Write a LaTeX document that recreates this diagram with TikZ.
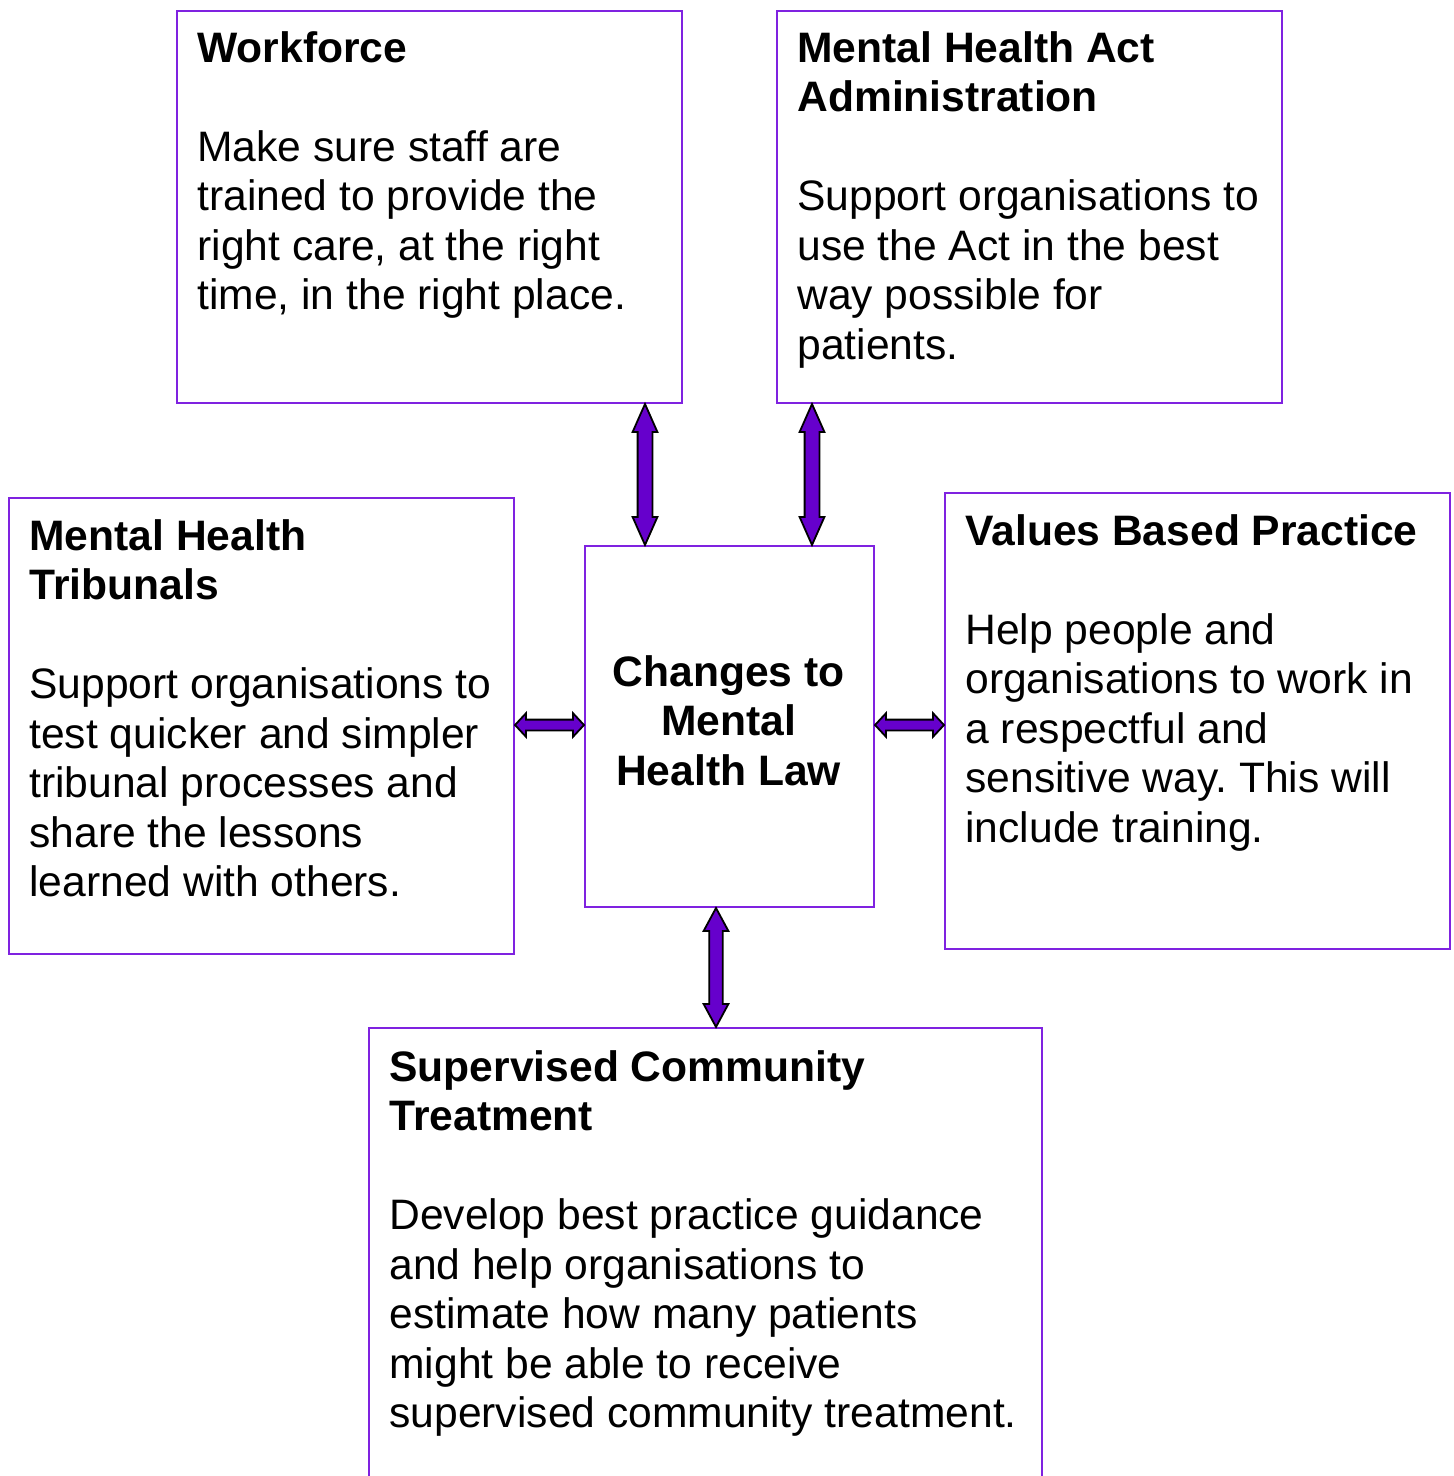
\documentclass[tikz,border=0pt]{standalone}
\usepackage{fontspec}
\setmainfont{Liberation Sans}
\usepackage{tikz}
\usetikzlibrary{calc}
\frenchspacing

\definecolor{boxline}{HTML}{7F22E0}
\definecolor{arrowfill}{HTML}{6600CC}

\tikzset{
  box/.style={draw=boxline, line width=1pt, minimum width=#1, inner sep=0, anchor=north west},
  % placed at the first baseline: the strut keeps the top of the text fixed
  txt/.style={inner sep=0, anchor=north west, yshift=15.4pt, align=left,
    font=\fontsize{21.3}{24.75}\selectfont, execute at begin node=\strut},
  arrowbody/.style={fill=arrowfill, draw=black, line width=0.9pt, line join=miter}
}

% block arrow with two heads: #1 from, #2 to, #3 head length, #4 half head, #5 half shaft
\newcommand\blockarrow[5]{%
  \path (#1) coordinate (ba-s) (#2) coordinate (ba-t);
  \path ($(ba-s)!#3!(ba-t)$) coordinate (ba-h1) ($(ba-t)!#3!(ba-s)$) coordinate (ba-h2);
  \filldraw[arrowbody] (ba-s)
    -- ($(ba-h1)!#4!90:(ba-t)$) -- ($(ba-h1)!#5!90:(ba-t)$)
    -- ($(ba-h2)!#5!-90:(ba-s)$) -- ($(ba-h2)!#4!-90:(ba-s)$)
    -- (ba-t)
    -- ($(ba-h2)!#4!90:(ba-s)$) -- ($(ba-h2)!#5!90:(ba-s)$)
    -- ($(ba-h1)!#5!-90:(ba-t)$) -- ($(ba-h1)!#4!-90:(ba-t)$)
    -- cycle;
}

\begin{document}
\begin{tikzpicture}[x=0.5pt, y=-0.5pt]
  \clip (0,0) rectangle (1454,1476);

  % boxes
  \node[box=252.5pt, minimum height=196pt] (wf) at (176,10) {};
  \node[box=252.5pt, minimum height=196pt] (mha) at (776,10) {};
  \node[box=252.5pt, minimum height=228pt] (mht) at (8,497) {};
  \node[box=144.5pt, minimum height=180.5pt] (law) at (584,545) {};
  \node[box=252.5pt, minimum height=228pt] (vbp) at (944,492) {};
  \node[box=336.5pt, minimum height=240pt] (sct) at (368,1027) {};

  % texts
  \node[txt] (wf-t) at (197,62) {\textbf{Workforce}\\[24.75pt]
    Make sure staff are\\ trained to provide the\\ right care, at the right\\ time, in the right place.};
  \node[txt] (mha-t) at (797,62) {\textbf{Mental Health Act}\\ \textbf{Administration}\\[24.75pt]
    Support organisations to\\ use the Act in the best\\ way possible for\\ patients.};
  \node[txt] (mht-t) at (29,550) {\textbf{Mental Health}\\ \textbf{Tribunals}\\[24.75pt]
    Support organisations to\\ test quicker and simpler\\ tribunal processes and\\ share the lessons\\ learned with others.};
  \node[txt, anchor=north, align=center] (law-t) at (728.5,686) {\textbf{Changes to}\\ \textbf{Mental}\\ \textbf{Health Law}};
  \node[txt] (vbp-t) at (965,545) {\textbf{Values Based Practice}\\[24.75pt]
    Help people and\\ organisations to work in\\ a respectful and\\ sensitive way. This will\\ include training.};
  \node[txt] (sct-t) at (389,1081) {\textbf{Supervised Community}\\ \textbf{Treatment}\\[24.75pt]
    Develop best practice guidance\\ and help organisations to\\ estimate how many patients\\ might be able to receive\\ supervised community treatment.};

  % arrows
  \blockarrow{law.north west -| {$(law.north west)+(61,0)$}}{wf.south -| {$(law.north west)+(61,0)$}}{14pt}{6.2pt}{3.7pt}
  \blockarrow{law.north west -| {$(law.north west)+(228,0)$}}{mha.south -| {$(law.north west)+(228,0)$}}{14pt}{6.2pt}{3.7pt}
  \blockarrow{mht.east |- {$(law.north)+(0,180)$}}{law.west |- {$(law.north)+(0,180)$}}{5.5pt}{5.9pt}{2.7pt}
  \blockarrow{law.east |- {$(law.north)+(0,180)$}}{vbp.west |- {$(law.north)+(0,180)$}}{5.5pt}{5.9pt}{2.7pt}
  \blockarrow{law.south -| {$(law.south west)+(132,0)$}}{sct.north -| {$(law.south west)+(132,0)$}}{11.5pt}{6.2pt}{3.4pt}
\end{tikzpicture}
\end{document}
